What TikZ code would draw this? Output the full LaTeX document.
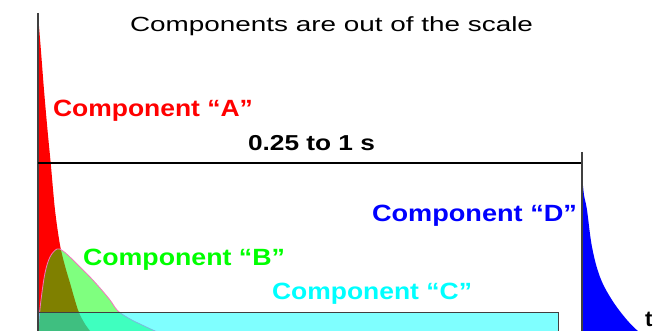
\documentclass[tikz,border=0pt]{standalone}
\usepackage{fontspec}
\setmainfont{Liberation Sans}
\definecolor{cA}{HTML}{FF0000}
\definecolor{cB}{HTML}{00FF00}
\definecolor{cC}{HTML}{00FFFF}
\definecolor{cD}{HTML}{0000FF}
\definecolor{edge}{HTML}{404040}
\newcommand{\wbox}[2]{\resizebox{#1pt}{\height}{#2}}
\begin{document}
\begin{tikzpicture}[x=1pt,y=-1pt,
  lbl/.style={inner sep=0pt,outer sep=0pt,anchor=base west},
  comp/.style={lbl,font=\fontsize{23.5}{26}\selectfont\bfseries},
  axisline/.style={draw=edge,line width=1.3pt}]
\useasboundingbox (0,0) rectangle (659,331);
\clip (0,0) rectangle (659,331);
% Component A (red)
\fill[cA] (38,14) -- plot[smooth,tension=0.5] coordinates {(38,14) (40.5,45) (44,90) (47.5,130) (50.7,163) (55,210) (60,245) (65,266) (70,283) (78,310) (85,324) (94,336)} -- (38,336) -- cycle;
% Component B (green, translucent)
\filldraw[fill=cB,fill opacity=0.5,draw=magenta!55,line width=0.8pt] plot[smooth,tension=0.6] coordinates {(38,333) (39,320) (41,300) (45,273) (50,257) (57,249) (63,251) (72,259) (80,267) (90,277) (100,288) (110,300) (118,311) (130,319) (140,324) (155,331) (170,337)} -- (38,337) -- cycle;
% Component C (cyan, translucent box)
\filldraw[fill=cC,fill opacity=0.5,draw=edge,line width=0.9pt] (38,312) rectangle (558,340);
% Component D (blue)
\fill[cD] (582.5,180) -- plot[smooth,tension=0.6] coordinates {(582.5,180) (584,195) (587,210) (592,247) (600,277) (612,300) (627,320) (640,333)} -- (582.5,335) -- cycle;
% axes
\coordinate (axtop) at (38,13);
\coordinate (axbot) at (38,335);
\coordinate (hl) at (38,163);
\coordinate (hr) at (582,163);
\coordinate (ttop) at (582,152);
\coordinate (tbot) at (582,335);
\draw[axisline] (axtop) -- (axbot);
\draw[black,line width=1.1pt] (hl) -- (hr);
\draw[axisline] (ttop) -- (tbot);
% texts
\node[lbl,font=\fontsize{20.5}{24}\selectfont] (title) at (130,32) {\wbox{403}{Components are out of the scale}};
\node[comp,text=cA] (labA) at (53,117) {\wbox{200}{Component “A”}};
\node[lbl,font=\fontsize{21.6}{24}\selectfont\bfseries] (dur) at (248,151) {\wbox{127}{0.25 to 1 s}};
\node[comp,text=cD] (labD) at (372,222) {\wbox{205}{Component “D”}};
\node[comp,text=cB] (labB) at (83,266) {\wbox{202}{Component “B”}};
\node[comp,text=cC] (labC) at (272,300) {\wbox{200}{Component “C”}};
\node[lbl,font=\fontsize{22}{26}\selectfont\bfseries] (t) at (645,326.5) {t};
\end{tikzpicture}
\end{document}
